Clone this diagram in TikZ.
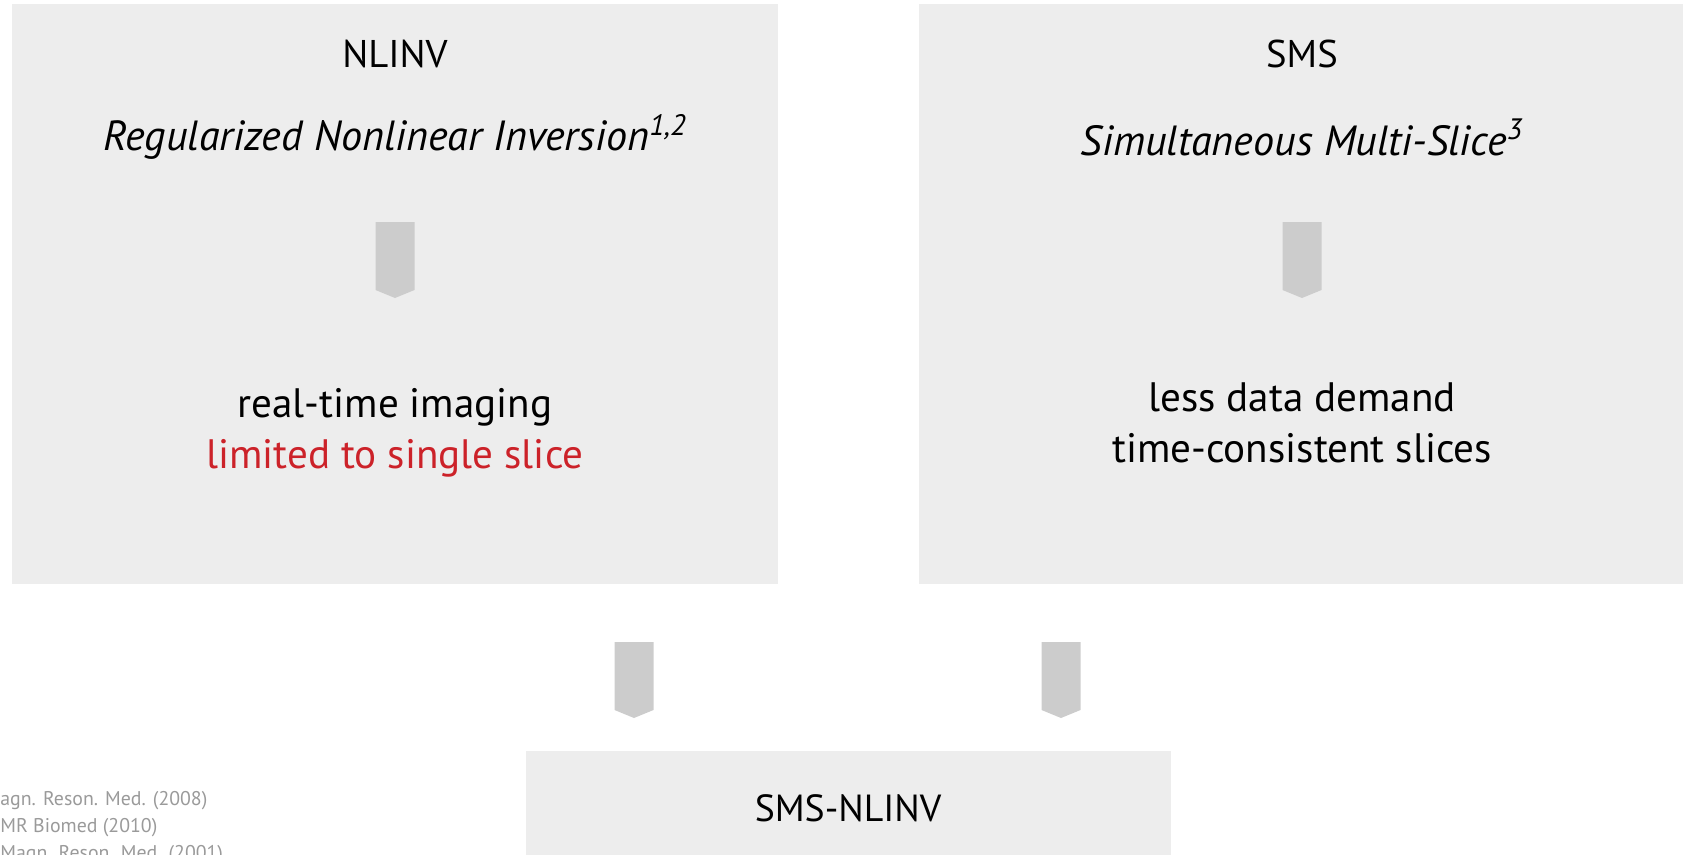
\documentclass[tikz,border=0pt]{standalone}
\usepackage{fontspec}
\setmainfont{PT Sans}
\definecolor{sfondo}{HTML}{EDEDED}
\definecolor{grigio}{HTML}{CCCCCC}
\definecolor{rosso}{HTML}{CC2229}
\definecolor{testogrigio}{HTML}{9A9A9A}

\begin{document}
\begin{tikzpicture}[x=0.02cm, y=-0.02cm]
	% Stili per i riquadri, i testi e le frecce
	\tikzset{riquadro/.style={fill=sfondo, draw=none},
		titolo/.style={font=\fontsize{22}{26}\selectfont},
		sottotitolo/.style={font=\fontsize{24}{28}\selectfont\itshape},
		corpo/.style={font=\fontsize{23.4}{29}\selectfont, align=center},
		nota/.style={font=\fontsize{11.3}{14}\selectfont, text=testogrigio, anchor=west, inner sep=0pt},
		freccia/.pic={\fill[grigio] (-19.5,0) -- (19.5,0) -- (19.5,68) -- (0,76) -- (-19.5,68) -- cycle;}}
	
	\useasboundingbox (0,0) rectangle (1683,855);
	
	% Riquadri
	\fill[riquadro] (12,4) rectangle (778,584);
	\fill[riquadro] (919,4) rectangle (1683,584);
	\fill[riquadro] (526,751) rectangle (1171,855);
	
	% Colonna sinistra
	\node[titolo] (nlinv) at (395,54) {NLINV};
	\node[sottotitolo] (regnl) at (395,137) {Regularized Nonlinear Inversion\textsuperscript{1,2}};
	\pic at (395,222) {freccia};
	\node[corpo] (rtime) at (395,433) {real-time imaging\\\textcolor{rosso}{limited to single slice}};
	
	% Colonna destra
	\node[titolo] (sms) at (1302,54) {SMS};
	\node[sottotitolo] (smsl) at (1302,137) {Simultaneous Multi-Slice\textsuperscript{3}};
	\pic at (1302,222) {freccia};
	\node[corpo] (dati) at (1302,423) {less data demand\\time-consistent slices};
	
	% Frecce verso il basso e riquadro finale
	\pic at (634,642) {freccia};
	\pic at (1061,642) {freccia};
	\node[titolo, font=\fontsize{21.5}{26}\selectfont] (smsnlinv) at (848,808) {SMS-NLINV};
	
	% Riferimenti (tagliati dal bordo)
	\node[nota] (ref1) at (0,801) {agn. Reson. Med. (2008)};
	\node[nota] (ref2) at (0,828) {MR Biomed (2010)};
	\node[nota] (ref3) at (0,855) {Magn. Reson. Med. (2001)};
\end{tikzpicture}
\end{document}
